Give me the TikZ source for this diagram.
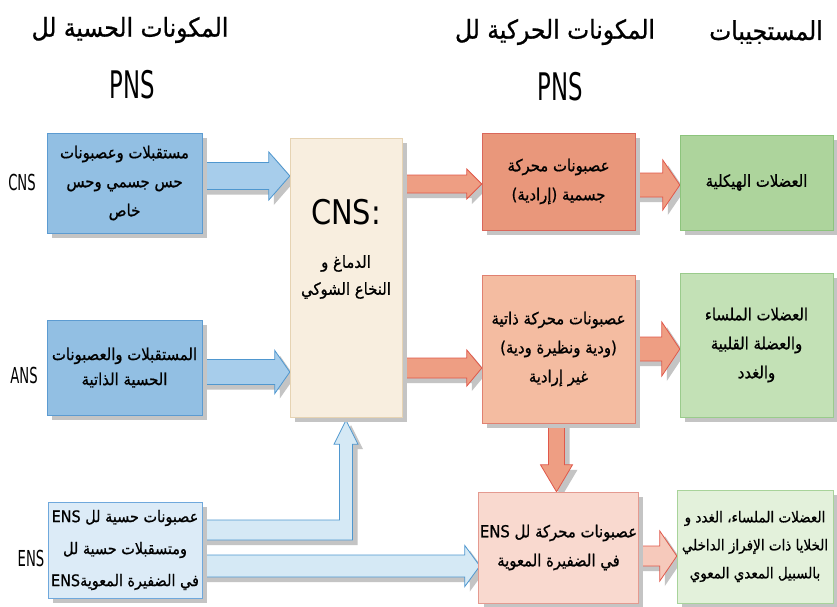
\documentclass[tikz,border=0pt]{standalone}
\usepackage{fontspec}
\TeXXeTstate=1
\newfontfamily\arabicfont[Script=Arabic,FakeBold=0.8,FakeStretch=0.9]{DejaVu Sans}
\newfontfamily\narrowfont[FakeStretch=0.6]{DejaVu Sans}
\newfontfamily\widefont[FakeStretch=0.85]{DejaVu Sans}
\usetikzlibrary{calc,shadows}
\newcommand{\ar}[1]{{\arabicfont\beginR #1\endR}}
\newcommand{\lt}[1]{\beginL #1\endL}
\definecolor{bluefill}{HTML}{92BFE3}
\definecolor{blueline}{HTML}{5C9BD1}
\definecolor{ensfill}{HTML}{DCEBF7}
\definecolor{ensline}{HTML}{6FA8DC}
\definecolor{cnsfill}{HTML}{F8EEDF}
\definecolor{cnsline}{HTML}{E6D3B3}
\definecolor{o1fill}{HTML}{E9977B}
\definecolor{o1line}{HTML}{D9675B}
\definecolor{o2fill}{HTML}{F4BCA1}
\definecolor{o2line}{HTML}{E08070}
\definecolor{o3fill}{HTML}{F9D9CF}
\definecolor{o3line}{HTML}{E49A90}
\definecolor{g1fill}{HTML}{ADD49C}
\definecolor{g1line}{HTML}{8CC47C}
\definecolor{g2fill}{HTML}{C3E1B6}
\definecolor{g2line}{HTML}{9ACB8C}
\definecolor{g3fill}{HTML}{E3F1DB}
\definecolor{g3line}{HTML}{A8D39A}
\definecolor{arrblue}{HTML}{A7CDEB}
\definecolor{arrblueline}{HTML}{4F97CF}
\definecolor{arrens}{HTML}{D5E9F5}
\definecolor{arrorange}{HTML}{EE9E83}
\definecolor{arrorangeline}{HTML}{E0584A}
\definecolor{arrpink}{HTML}{F6C9BB}
\definecolor{shadowgray}{HTML}{C4C4C4}
\newcommand{\rarrow}[7]{%
  \coordinate (s) at (#2 |- 0,#4);
  \coordinate (e) at (#3 |- 0,#4);
  \draw[#1] ($(s)+(-3,-#5)$) -- ($(e)+(-#7,-#5)$) -- ($(e)+(-#7,-#6)$) -- (e)
    -- ($(e)+(-#7,#6)$) -- ($(e)+(-#7,#5)$) -- ($(s)+(-3,#5)$) -- cycle;}
\begin{document}
\begin{tikzpicture}[x=1pt,y=-1pt,
  shad/.style={drop shadow={shadow xshift=5pt,shadow yshift=-5pt,fill=shadowgray,opacity=1}},
  box/.style={draw,line width=1pt,inner sep=1pt,align=center,shad,
    font=\arabicfont\fontsize{16.5}{29}\selectfont},
  blbox/.style={box,fill=bluefill,draw=blueline},
  ensbox/.style={box,fill=ensfill,draw=ensline},
  cnsbox/.style={box,fill=cnsfill,draw=cnsline},
  o1box/.style={box,fill=o1fill,draw=o1line},
  o2box/.style={box,fill=o2fill,draw=o2line},
  o3box/.style={box,fill=o3fill,draw=o3line},
  g1box/.style={box,fill=g1fill,draw=g1line},
  g2box/.style={box,fill=g2fill,draw=g2line},
  g3box/.style={box,fill=g3fill,draw=g3line},
  arblue/.style={fill=arrblue,draw=arrblueline,line width=0.8pt,shad},
  arens/.style={fill=arrens,draw=arrblueline,line width=0.8pt,shad},
  arorange/.style={fill=arrorange,draw=arrorangeline,line width=0.8pt,shad},
  arpink/.style={fill=arrpink,draw=arrorangeline,line width=0.8pt,shad},
  head/.style={font=\arabicfont\fontsize{26}{28}\selectfont},
  pns/.style={font=\narrowfont\fontsize{38}{40}\selectfont},
  side/.style={font=\narrowfont\fontsize{22}{24}\selectfont}]
\useasboundingbox (0,0) rectangle (837,606);
\fill[white] (0,0) rectangle (837,606);

% headers
\node[head] (h1) at (130,30) {\ar{المكونات الحسية لل}};
\node[pns] (h1p) at (132,85) {PNS};
\node[head] (h2) at (555,32) {\ar{المكونات الحركية لل}};
\node[pns] (h2p) at (560,87) {PNS};
\node[head] (h3) at (766,32) {\ar{المستجيبات}};

% placement nodes for arrows (boxes drawn later)
\path (124.5,183) node[minimum width=155,minimum height=100,inner sep=0] (b1) {};
\path (124.5,367.5) node[minimum width=155,minimum height=95,inner sep=0] (b2) {};
\path (125,550) node[minimum width=154,minimum height=96,inner sep=0] (ens) {};
\path (346,277.5) node[minimum width=112,minimum height=279,inner sep=0] (cns) {};
\path (558.5,181.5) node[minimum width=153,minimum height=97,inner sep=0] (o1) {};
\path (558.5,349) node[minimum width=153,minimum height=148,inner sep=0] (o2) {};
\path (558.5,547.5) node[minimum width=157,minimum height=111,inner sep=0] (o3) {};
\path (756.5,182.5) node[minimum width=153,minimum height=95,inner sep=0] (g1) {};
\path (756.5,345) node[minimum width=153,minimum height=144,inner sep=0] (g2) {};
\path (755,546.5) node[minimum width=156,minimum height=113,inner sep=0] (g3) {};

% arrows
\rarrow{arblue}{b1.east}{cns.west}{176}{13.5}{24}{21}
\rarrow{arblue}{b2.east}{cns.west}{372}{12.5}{21.5}{15}
\rarrow{arorange}{cns.east}{o1.west}{184}{9}{15}{15}
\rarrow{arorange}{cns.east}{o2.west}{368}{10}{18}{15}
\rarrow{arorange}{o1.east}{g1.west}{185}{12}{25}{17}
\rarrow{arorange}{o2.east}{g2.west}{349}{12}{27}{18}
\rarrow{arpink}{o3.east}{g3.west}{556}{10}{25}{17}
\rarrow{arens}{ens.east}{o3.west}{566}{11}{20.5}{15}
% bent arrow ENS -> CNS
\coordinate (t) at ($(cns.south)+(0,3)$);
\draw[arens] ($(ens.east |- 0,520)+(-3,0)$) -- ($(t |- 0,520)+(-6.5,0)$)
  -- ($(t)+(-6.5,24)$) -- ($(t)+(-12,24)$) -- (t) -- ($(t)+(12,24)$)
  -- ($(t)+(6.5,24)$) -- ($(t |- 0,540)+(6.5,0)$) -- ($(ens.east |- 0,540)+(-3,0)$) -- cycle;
% down arrow o2 -> o3
\coordinate (d) at ($(o3.north)+(-2,0)$);
\draw[arorange] ($(o2.south -| d)+(-8,-3)$) -- ($(d)+(-8,-27)$) -- ($(d)+(-16,-27)$)
  -- (d) -- ($(d)+(16,-27)$) -- ($(d)+(8,-27)$) -- ($(o2.south -| d)+(8,-3)$) -- cycle;

% boxes
\node[blbox,minimum width=155,minimum height=100] at (b1) {\ar{مستقبلات وعصبونات}\\\ar{حس جسمي وحس}\\\ar{خاص}};
\node[blbox,minimum width=155,minimum height=95,font=\arabicfont\fontsize{16.5}{25}\selectfont] at (b2) {\ar{المستقبلات والعصبونات}\\\ar{الحسية الذاتية}};
\node[ensbox,minimum width=154,minimum height=96,font=\arabicfont\fontsize{16}{32}\selectfont] at (ens) {\ar{عصبونات حسية لل \lt{ENS}}\\\ar{ومتسقبلات حسية لل}\\\ar{في الضفيرة المعوية\lt{ENS}}};
\node[cnsbox,minimum width=112,minimum height=279] at (cns) {};
\node[font=\widefont\fontsize{34}{36}\selectfont] (cnst) at (346,212) {CNS:};
\node[align=center,font=\arabicfont\fontsize{16.5}{27}\selectfont] (cnsa) at (346,277) {\ar{الدماغ و}\\\ar{النخاع الشوكي}};
\node[o1box,minimum width=153,minimum height=97] at (o1) {\ar{عصبونات محركة}\\\ar{جسمية (إرادية)}};
\node[o2box,minimum width=153,minimum height=148] at (o2) {\ar{عصبونات محركة ذاتية}\\\ar{(ودية ونظيرة ودية)}\\\ar{غير إرادية}};
\node[o3box,minimum width=157,minimum height=111] at (o3) {\ar{عصبونات محركة لل \lt{ENS}}\\\ar{في الضفيرة المعوية}};
\node[g1box,minimum width=153,minimum height=95] at (g1) {\ar{العضلات الهيكلية}};
\node[g2box,minimum width=153,minimum height=144] at (g2) {\ar{العضلات الملساء}\\\ar{والعضلة القلبية}\\\ar{والغدد}};
\node[g3box,minimum width=156,minimum height=113,font=\arabicfont\fontsize{15}{28}\selectfont] at (g3) {\ar{العضلات الملساء، الغدد و}\\\ar{الخلايا ذات الإفراز الداخلي}\\\ar{بالسبيل المعدي المعوي}};

% side labels
\node[side] (lc) at (22,182) {CNS};
\node[side] (la) at (24,375) {ANS};
\node[side] (le) at (31,558) {ENS};
\end{tikzpicture}
\end{document}
